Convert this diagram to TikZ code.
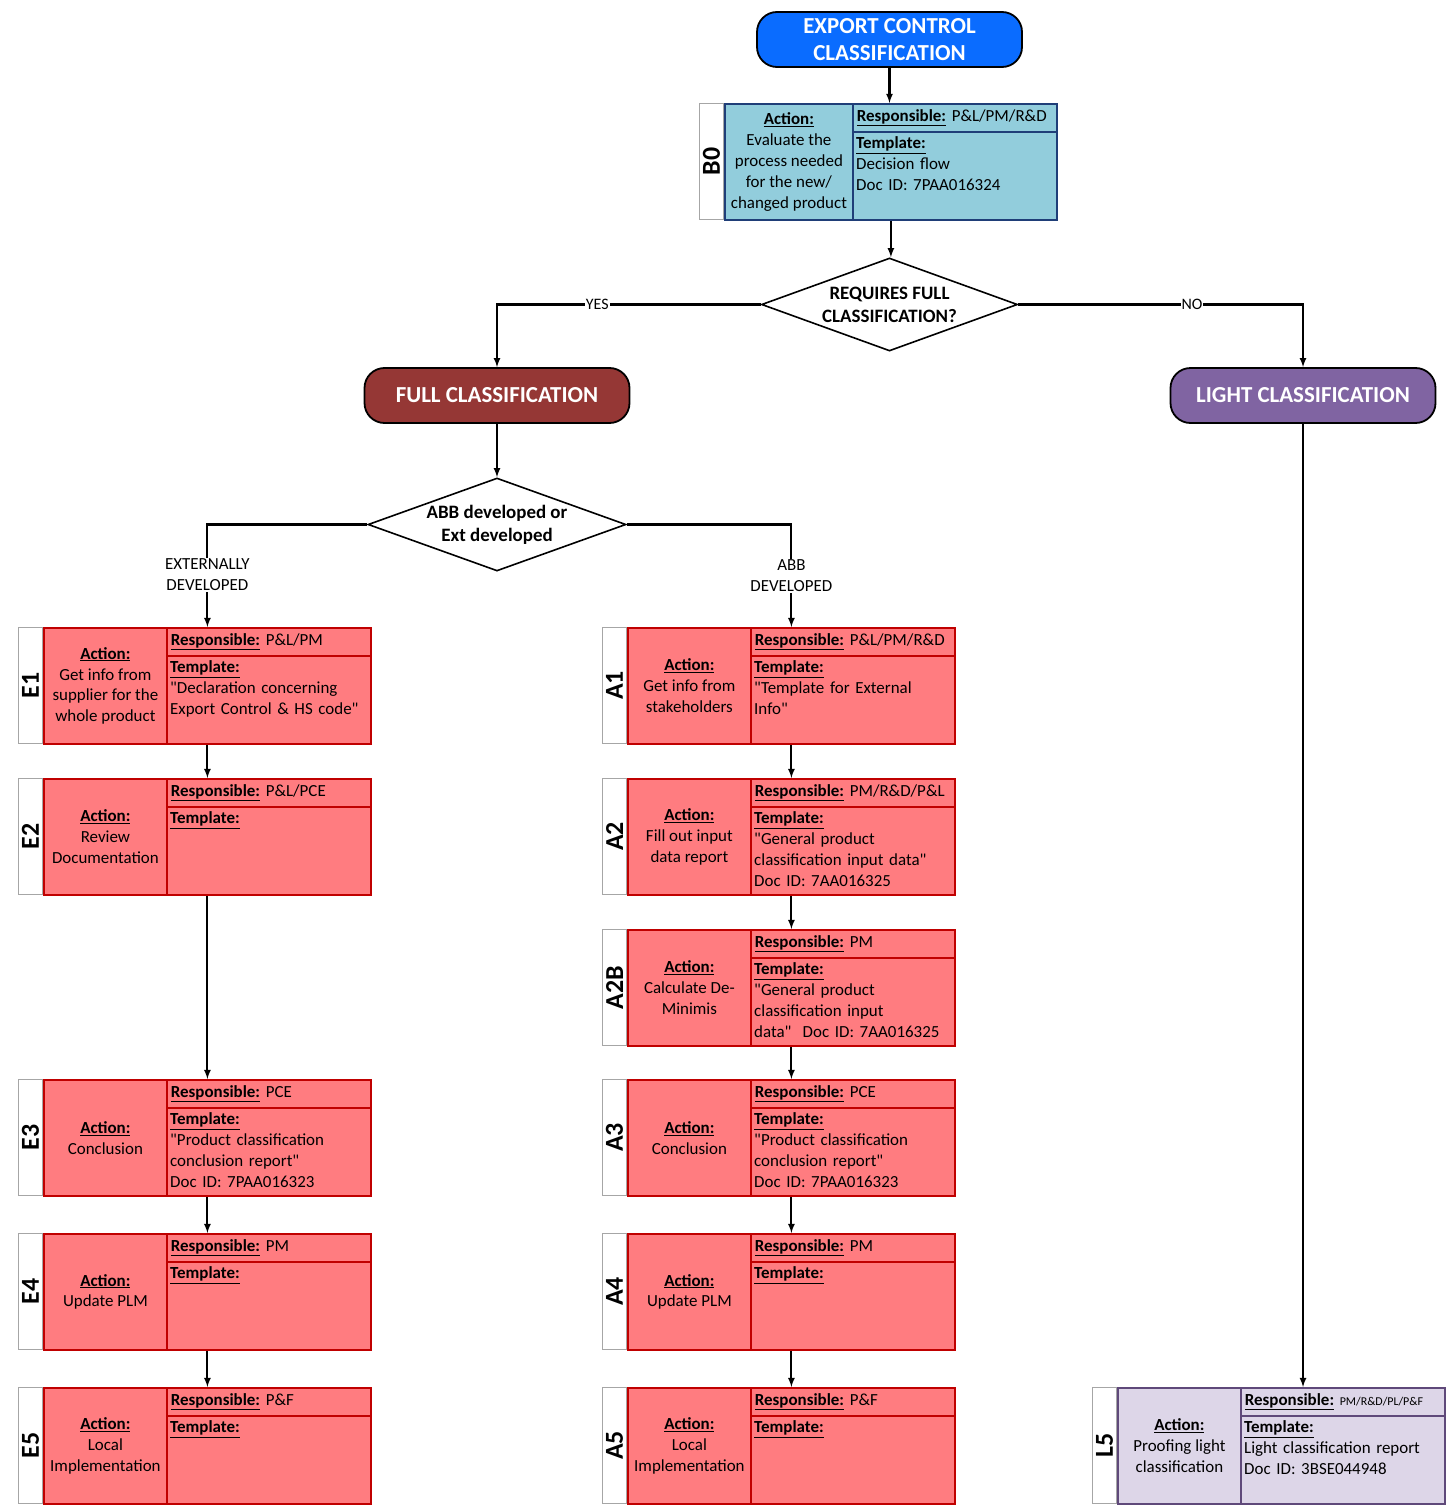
\documentclass[tikz,border=0pt]{standalone}
\usepackage{fontspec}
\setmainfont{Carlito}
\usepackage{tikz}
\usetikzlibrary{shapes.geometric}

\definecolor{startblue}{HTML}{0A6CFF}
\definecolor{fullred}{HTML}{953735}
\definecolor{lightpurple}{HTML}{8064A2}
\definecolor{boxblue}{HTML}{92CDDC}
\definecolor{lineblue}{HTML}{1F3E78}
\definecolor{boxred}{HTML}{FF7C80}
\definecolor{linered}{HTML}{C00000}
\definecolor{boxpurple}{HTML}{DDD6E8}
\definecolor{linepurple}{HTML}{5F497A}

\newcommand{\dq}{\textquotedbl}

% one process step: name/label, x, y, action width, action, responsible, template, colour style
\newcommand{\procbox}[8]{%
  \node[#8, anchor=north west, minimum width=#4bp+204bp, minimum height=116bp, inner sep=0pt] (#1) at (#2,#3) {};
  \node[#8, fill=none, anchor=north west, minimum width=#4bp, minimum height=116bp, inner sep=2bp, align=center] (#1a) at (#1.north west) {\underline{\textbf{Action:}}\\#5};
  \node[#8, fill=none, anchor=north east, minimum height=28bp, text width=196bp, inner sep=4bp, align=left] (#1r) at (#1.north east) {\underline{\textbf{Responsible:}} #6};
  \node[anchor=north west, text width=196bp, inner sep=4bp, align=left] (#1t) at (#1r.south west) {#7};
  \node[strip, anchor=north east] (#1l) at (#1.north west) {\rotatebox{90}{#1}};
}

\begin{document}
\begin{tikzpicture}[x=1bp, y=-1bp, >=latex,
    font=\fontsize{17}{21}\selectfont,
    startbox/.style={draw=black, line width=1.8bp, rounded corners=20bp, minimum width=265bp, minimum height=55bp, align=center, text=white, font=\fontsize{23}{27}\selectfont\bfseries},
    decision/.style={diamond, draw=black, line width=1.6bp, fill=white, aspect=2.75, inner sep=-3bp, align=center, font=\fontsize{19}{23}\selectfont\bfseries},
    bluebox/.style={fill=boxblue, draw=lineblue, line width=1.8bp},
    redbox/.style={fill=boxred, draw=linered, line width=1.8bp},
    purplebox/.style={fill=boxpurple, draw=linepurple, line width=1.8bp},
    strip/.style={draw=gray!70, fill=white, line width=1bp, minimum width=24bp, minimum height=116bp, inner sep=0pt, font=\fontsize{26}{30}\selectfont\bfseries},
    flow/.style={->, line width=2.1bp},
    choice/.style={fill=white, inner sep=1bp, align=center, font=\fontsize{16}{21}\selectfont}]
  \useasboundingbox (0,0) rectangle (1449,1510);

  \node[startbox, fill=startblue] (start) at (889.5,39.5) {EXPORT CONTROL\\CLASSIFICATION};
  \procbox{B0}{724}{103}{128}{Evaluate the\\process needed\\for the new/\\changed product}{P\&L/PM/R\&D}{\underline{\textbf{Template:}}\\Decision flow\\Doc ID: 7PAA016324}{bluebox}
  \node[decision, minimum width=256bp, minimum height=93bp] (full?) at (889.5,304.5) {REQUIRES FULL\\CLASSIFICATION?};
  \node[startbox, fill=fullred] (full) at (497,395.5) {FULL CLASSIFICATION};
  \node[startbox, fill=lightpurple] (light) at (1303,395.5) {LIGHT CLASSIFICATION};
  \node[decision, minimum width=258bp, minimum height=93bp] (origin) at (497,524.5) {ABB developed or\\Ext developed};

  % externally developed
  \procbox{E1}{43}{627}{123}{Get info from\\supplier for the\\whole product}{P\&L/PM}{\underline{\textbf{Template:}}\\\dq Declaration concerning\\Export Control \& HS code\dq}{redbox}
  \procbox{E2}{43}{778}{123}{Review\\Documentation}{P\&L/PCE}{\underline{\textbf{Template:}}}{redbox}
  \procbox{E3}{43}{1079}{123}{Conclusion}{PCE}{\underline{\textbf{Template:}}\\\dq Product classification\\conclusion report\dq\\Doc ID: 7PAA016323}{redbox}
  \procbox{E4}{43}{1233}{123}{Update PLM}{PM}{\underline{\textbf{Template:}}}{redbox}
  \procbox{E5}{43}{1387}{123}{Local\\Implementation}{P\&F}{\underline{\textbf{Template:}}}{redbox}

  % ABB developed
  \procbox{A1}{627}{627}{123}{Get info from\\stakeholders}{P\&L/PM/R\&D}{\underline{\textbf{Template:}}\\\dq Template for External\\Info\dq}{redbox}
  \procbox{A2}{627}{778}{123}{Fill out input\\data report}{PM/R\&D/P\&L}{\underline{\textbf{Template:}}\\\dq General product\\classification input data\dq\\Doc ID: 7AA016325}{redbox}
  \procbox{A2B}{627}{929}{123}{Calculate De-\\Minimis}{PM}{\underline{\textbf{Template:}}\\\dq General product\\classification input\\data\dq\ \ Doc ID: 7AA016325}{redbox}
  \procbox{A3}{627}{1079}{123}{Conclusion}{PCE}{\underline{\textbf{Template:}}\\\dq Product classification\\conclusion report\dq\\Doc ID: 7PAA016323}{redbox}
  \procbox{A4}{627}{1233}{123}{Update PLM}{PM}{\underline{\textbf{Template:}}}{redbox}
  \procbox{A5}{627}{1387}{123}{Local\\Implementation}{P\&F}{\underline{\textbf{Template:}}}{redbox}

  % light classification
  \procbox{L5}{1117}{1387}{123}{Proofing light\\classification}{{\fontsize{12}{14}\selectfont PM/R\&D/PL/P\&F}}{\underline{\textbf{Template:}}\\Light classification report\\Doc ID: 3BSE044948}{purplebox}

  \draw[flow] (start.south) -- (start.south |- B0.north);
  \draw[flow] (B0.south) -- (B0.south |- full?.north);
  \draw[flow] (full?.west) -| (full.north) node[choice, pos=0.31]{YES};
  \draw[flow] (full?.east) -| (light.north) node[choice, pos=0.305]{NO};
  \draw[flow] (full.south) -- (origin.north);
  \draw[flow] (origin.west) -| (E1.north) node[choice, pos=0.745, font=\fontsize{17}{21}\selectfont]{EXTERNALLY\\DEVELOPED};
  \draw[flow] (origin.east) -| (A1.north) node[choice, pos=0.75, font=\fontsize{17}{21}\selectfont]{ABB\\DEVELOPED};
  \draw[flow] (E1) -- (E2);
  \draw[flow] (E2) -- (E3);
  \draw[flow] (E3) -- (E4);
  \draw[flow] (E4) -- (E5);
  \draw[flow] (A1) -- (A2);
  \draw[flow] (A2) -- (A2B);
  \draw[flow] (A2B) -- (A3);
  \draw[flow] (A3) -- (A4);
  \draw[flow] (A4) -- (A5);
  \draw[flow] (light.south) -- (light.south |- L5.north);
\end{tikzpicture}
\end{document}
